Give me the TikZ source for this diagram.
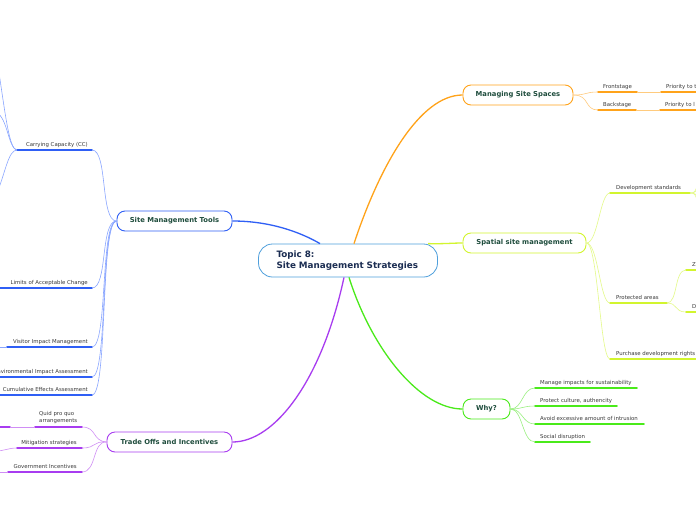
\documentclass[tikz,border=0pt]{standalone}
\usepackage{fontspec}
\setmainfont{DejaVu Sans}
\definecolor{cblue}{HTML}{2F5FF5}
\definecolor{lblue}{HTML}{8AA6FF}
\definecolor{corange}{HTML}{FFA31A}
\definecolor{lorange}{HTML}{FFCB7E}
\definecolor{cyellow}{HTML}{D2F52E}
\definecolor{lyellow}{HTML}{E4FA88}
\definecolor{cgreen}{HTML}{4AEA1A}
\definecolor{lgreen}{HTML}{9AF080}
\definecolor{cpurple}{HTML}{A83CF0}
\definecolor{lpurple}{HTML}{D08EF5}
\definecolor{cborder}{HTML}{4F9FDC}
\definecolor{labgray}{HTML}{3A3A3A}
\definecolor{mtext}{HTML}{1F4D3D}
\definecolor{ctext}{HTML}{1B2D52}
\begin{document}
\begin{tikzpicture}[x=1pt,y=-1pt,
  lab/.style={font=\fontsize{5.4}{7}\selectfont, text=labgray, inner sep=0pt},
  mainnode/.style={draw, line width=0.9pt, rounded corners=8pt, minimum height=20pt, inner sep=0pt,
    font=\fontsize{6.8}{8}\selectfont\bfseries, text=mtext, fill=white},
  central/.style={draw=cborder, line width=0.8pt, rounded corners=14pt, minimum width=179pt,
    minimum height=33pt, inner sep=0pt, text width=143pt, align=left,
    font=\fontsize{8.8}{11}\selectfont\bfseries, text=ctext, fill=white},
  ul/.style={line width=1.7pt, line cap=round},
  thin/.style={line width=0.6pt},
  trunk/.style={line width=1.3pt}
]
\clip (0,0) rectangle (696,520);
\fill[white] (0,0) rectangle (696,520);

% ---------- main nodes ----------
\node[central] (c) at (348,260.5) {Topic 8:\\Site Management Strategies};
\node[mainnode, draw=cblue, minimum width=115pt] (smt) at (174.5,221) {Site Management Tools};
\node[mainnode, draw=corange, minimum width=110pt] (mss) at (518,95) {Managing Site Spaces};
\node[mainnode, draw=cyellow, minimum width=123pt] (ssm) at (524.5,243) {Spatial site management};
\node[mainnode, draw=cgreen, minimum width=47pt] (why) at (486.5,409) {Why?};
\node[mainnode, draw=cpurple, minimum width=125pt] (toi) at (169.5,442) {Trade Offs and Incentives};

% ---------- trunks ----------
\draw[trunk, cblue] ([xshift=-28pt]c.north) .. controls (300,232) and (270,221) .. (smt.east);
\draw[trunk, corange] ([xshift=6pt]c.north) .. controls (380,165) and (420,95) .. (mss.west);
\draw[trunk, cyellow] ([xshift=80pt]c.north) .. controls (445,244) and (452,243) .. (ssm.west);
\draw[trunk, cgreen] ([xshift=1pt]c.south) .. controls (372,350) and (420,409) .. (why.west);
\draw[trunk, cpurple] ([xshift=-4pt]c.south) .. controls (322,380) and (275,442) .. (toi.east);

% ---------- blue: Site Management Tools ----------
\coordinate (ccL) at (17,150);  \coordinate (ccR) at (92,150);
\coordinate (lacL) at (0,288);  \coordinate (lacR) at (92,288);
\coordinate (vimL) at (7,347);  \coordinate (vimR) at (92,347);
\coordinate (eiaL) at (0,377);  \coordinate (eiaR) at (92,377);
\coordinate (ceaL) at (0,395);  \coordinate (ceaR) at (92,395);
\foreach \n in {cc,lac,vim,eia,cea}{\draw[ul, cblue] (\n L) -- (\n R);}
\node[lab, anchor=base east] (cc) at (88,146.5) {Carrying Capacity (CC)};
\node[lab, anchor=base east] (lac) at (88,284.5) {Limits of Acceptable Change};
\node[lab, anchor=base east] (vim) at (88,343.5) {Visitor Impact Management};
\node[lab, anchor=base east] (eia) at (88,373.5) {Environmental Impact Assessment};
\node[lab, anchor=base east] (cea) at (88,391.5) {Cumulative Effects Assessment};
\foreach \n in {cc,lac,vim,eia,cea}{\draw[thin, lblue] (smt.west) .. controls (100,221) and ([xshift=16pt]\n R) .. (\n R);}
% off-canvas children of Carrying Capacity
\coordinate (cc1) at (-4,55);
\coordinate (cc2) at (-4,112);
\coordinate (cc3) at (-4,195);
\coordinate (vim1) at (-4,347);
\draw[thin, lblue] (ccL) .. controls (8,150) and (4,100) .. (cc1);
\draw[thin, lblue] (ccL) .. controls (8,148) and (8,118) .. (cc2);
\draw[thin, lblue] (ccL) .. controls (8,150) and (5,175) .. (cc3);
\draw[thin, lblue] (vimL) -- (vim1);

% ---------- purple: Trade Offs and Incentives ----------
\coordinate (qpqL) at (35,427); \coordinate (qpqR) at (82,427);
\coordinate (mitL) at (17,448); \coordinate (mitR) at (82,448);
\coordinate (govL) at (8,472);  \coordinate (govR) at (82,472);
\foreach \n in {qpq,mit,gov}{\draw[ul, cpurple] (\n L) -- (\n R);}
\coordinate (q0) at (0,427); \coordinate (q1) at (10,427);
\draw[ul, cpurple] (q0) -- (q1);
\draw[thin, lpurple] (q1) -- (qpqL);
\coordinate (mit1) at (-4,451);
\coordinate (gov1) at (-4,472);
\draw[thin, lpurple] (mitL) .. controls (8,448) and (4,451) .. (mit1);
\draw[thin, lpurple] (govL) -- (gov1);
\node[lab, anchor=south west, align=left] (qpq) at (39,424.3) {Quid pro quo\\arrangements};
\node[lab, anchor=base east] (mit) at (77,444.5) {Mitigation strategies};
\node[lab, anchor=base east] (gov) at (77,468.5) {Government Incentives};
\foreach \n in {qpq,mit,gov}{\draw[thin, lpurple] (toi.west) .. controls (92,441) and ([xshift=15pt]\n R) .. (\n R);}

% ---------- orange: Managing Site Spaces ----------
\coordinate (frL) at (598,92);  \coordinate (frR) at (637,92);
\coordinate (bkL) at (598,110); \coordinate (bkR) at (636,110);
\coordinate (pfL) at (661,92);  \coordinate (pfR) at (700,92);
\coordinate (pbL) at (660,110); \coordinate (pbR) at (700,110);
\foreach \n in {fr,bk,pf,pb}{\draw[ul, corange] (\n L) -- (\n R);}
\draw[thin, lorange] (frR) -- (pfL);
\draw[thin, lorange] (bkR) -- (pbL);
\node[lab, anchor=base west] (fr) at (603,88.5) {Frontstage};
\node[lab, anchor=base west] (bk) at (603,106.5) {Backstage};
\node[lab, anchor=base west] (pf) at (666,88.5) {Priority to t};
\node[lab, anchor=base west] (pb) at (665,106.5) {Priority to l};
\draw[thin, lorange] (mss.east) .. controls (588,95) and (584,92) .. (frL);
\draw[thin, lorange] (mss.east) .. controls (590,95) and (584,110) .. (bkL);

% ---------- yellow: Spatial site management ----------
\coordinate (dsL) at (610,193); \coordinate (dsR) at (690,193);
\coordinate (paL) at (610,303); \coordinate (paR) at (667,303);
\coordinate (pdL) at (610,359); \coordinate (pdR) at (700,359);
\coordinate (zL) at (686,270);  \coordinate (zR) at (700,270);
\coordinate (dL) at (686,312);  \coordinate (dR) at (700,312);
\foreach \n in {ds,pa,pd,z,d}{\draw[ul, cyellow] (\n L) -- (\n R);}
\node[lab, anchor=base west] (ds) at (616,189.5) {Development standards};
\node[lab, anchor=base west] (pa) at (616,299.5) {Protected areas};
\node[lab, anchor=base west] (pd) at (616,355.8) {Purchase development rights};
\node[lab, anchor=base west] (z) at (692,266.5) {Z};
\node[lab, anchor=base west] (d) at (692,308.5) {D};
\foreach \n in {ds,pa,pd}{\draw[thin, lyellow] (ssm.east) .. controls (598,243) and ([xshift=-10pt]\n L) .. (\n L);}
\draw[thin, lyellow] (paR) .. controls (678,303) and (674,270) .. (zL);
\draw[thin, lyellow] (paR) .. controls (678,303) and (674,312) .. (dL);
\coordinate (ds1) at (702,168);
\coordinate (ds2) at (702,180);
\coordinate (ds3) at (702,204);
\coordinate (ds4) at (702,218);
\foreach \k in {1,2,3,4}{\draw[thin, lyellow] (dsR) .. controls (695,193) and (696,193) .. (ds\k);}

% ---------- green: Why? ----------
\coordinate (m1L) at (535,388); \coordinate (m1R) at (637,388);
\coordinate (m2L) at (535,406); \coordinate (m2R) at (617,406);
\coordinate (m3L) at (535,424); \coordinate (m3R) at (644,424);
\coordinate (m4L) at (535,442); \coordinate (m4R) at (590,442);
\foreach \n in {m1,m2,m3,m4}{\draw[ul, cgreen] (\n L) -- (\n R);}
\node[lab, anchor=base west] (m1) at (540,384.5) {Manage impacts for sustainability};
\node[lab, anchor=base west] (m2) at (540,402.5) {Protect culture, authencity};
\node[lab, anchor=base west] (m3) at (540,420.5) {Avoid excessive amount of intrusion};
\node[lab, anchor=base west] (m4) at (540,438.5) {Social disruption};
\foreach \n in {m1,m2,m3,m4}{\draw[thin, lgreen] (why.east) .. controls (523,409) and ([xshift=-13pt]\n L) .. (\n L);}
\end{tikzpicture}
\end{document}
